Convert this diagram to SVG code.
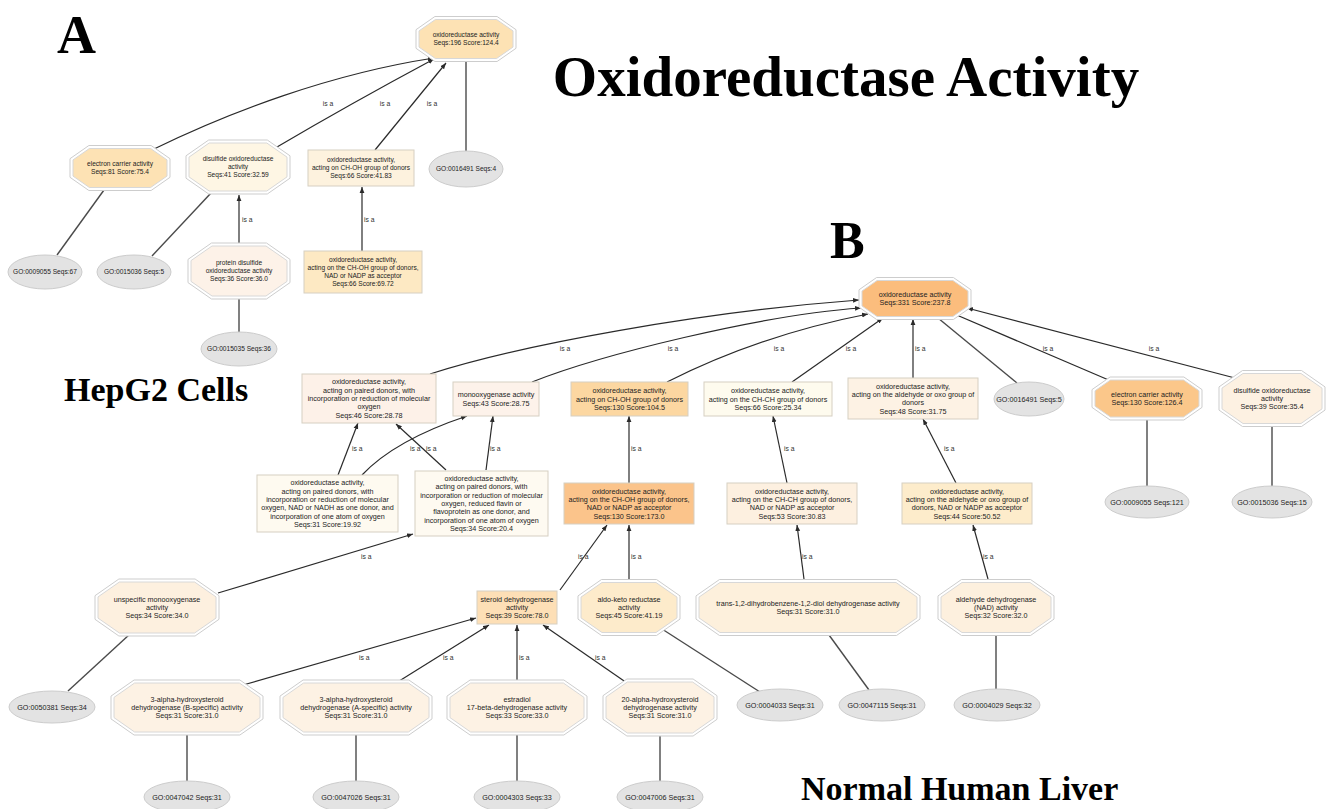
<svg xmlns="http://www.w3.org/2000/svg" width="1328" height="809" viewBox="0 0 1328 809">
<defs>
<marker id="arr" viewBox="0 0 10 10" refX="10" refY="5" markerWidth="6" markerHeight="6" markerUnits="userSpaceOnUse" orient="auto"><path d="M0,1 L10,5 L0,9 z" fill="#2a2a2a"/></marker>
<style>
.isa{fill:none;stroke:#2a2a2a;stroke-width:1.2;marker-end:url(#arr)}
.go{fill:none;stroke:#4a4a4a;stroke-width:1.4}
.lbl{font-family:"Liberation Sans",Arial,sans-serif;font-size:6.8px;fill:#333}
.lm{text-anchor:middle}
.t{font-family:"Liberation Sans",Arial,sans-serif;font-size:7.2px;fill:#222;text-anchor:middle}
.ta{font-family:"Liberation Sans",Arial,sans-serif;font-size:6.6px;fill:#222;text-anchor:middle}
.oo{fill:#fff;stroke:#cdcdcd;stroke-width:1}
.oi{stroke:#d8d8d8;stroke-width:1}
.box{stroke:#d6cfc2;stroke-width:1}
.ell{fill:#e3e3e3;stroke:#cccccc;stroke-width:1}
.title{font-family:"Liberation Serif","Times New Roman",serif;font-weight:bold;fill:#000}
</style>
</defs>
<rect width="1328" height="809" fill="#fff"/>

<text class="title" x="57" y="53" font-size="54">A</text>
<text class="title" x="846" y="96" font-size="57" text-anchor="middle">Oxidoreductase Activity</text>
<text class="title" x="830" y="258" font-size="52">B</text>
<text class="title" x="64" y="401" font-size="34">HepG2 Cells</text>
<text class="title" x="801" y="800" font-size="34">Normal Human Liver</text>

<g id="edges">
<path class="isa" d="M154,149 C230,112 330,74 434,58"/>
<path class="isa" d="M277,147 Q350,104 434,59"/>
<path class="isa" d="M375,150 L446,63"/>
<path class="go" d="M466,62 L466,151"/>
<path class="go" d="M104,190 L57,255"/>
<path class="go" d="M211,193 L152,256"/>
<path class="isa" d="M239,243 L239,195"/>
<path class="go" d="M239,299 L239,332"/>
<path class="isa" d="M362,251 L362,187"/>
<text class="lbl lm" x="328" y="106">is a</text>
<text class="lbl lm" x="385" y="106">is a</text>
<text class="lbl lm" x="432" y="106">is a</text>
<text class="lbl" x="242" y="222">is a</text>
<text class="lbl" x="364" y="222">is a</text>

<path class="isa" d="M430,374 C520,345 700,312 859,300"/>
<path class="isa" d="M532,382 C600,355 760,315 861,308"/>
<path class="isa" d="M667,382 Q760,335 868,314"/>
<path class="isa" d="M792,382 L883,318"/>
<path class="isa" d="M913,378 L913,319"/>
<path class="go" d="M938,318 L1017,383"/>
<path class="isa" d="M1111,381 L952,313"/>
<path class="isa" d="M1235,378 L967,308"/>
<text class="lbl lm" x="565" y="351">is a</text>
<text class="lbl lm" x="673" y="351">is a</text>
<text class="lbl lm" x="779" y="351">is a</text>
<text class="lbl lm" x="851" y="351">is a</text>
<text class="lbl" x="915" y="351">is a</text>
<text class="lbl lm" x="1048" y="351">is a</text>
<text class="lbl lm" x="1154" y="351">is a</text>

<path class="isa" d="M338,475 L358,423"/>
<path class="isa" d="M446,470 L396,424"/>
<path class="isa" d="M362,475 Q395,440 467,416"/>
<path class="isa" d="M486,470 L493,416"/>
<path class="isa" d="M629,483 L629,416"/>
<path class="isa" d="M787,483 L773,416"/>
<path class="isa" d="M956,483 L923,419"/>
<path class="go" d="M1147,420 L1147,486"/>
<path class="go" d="M1272,426 L1272,486"/>
<text class="lbl" x="352" y="451">is a</text>
<text class="lbl" x="410" y="451">is a</text>
<text class="lbl" x="426" y="451">is a</text>
<text class="lbl" x="490" y="451">is a</text>
<text class="lbl" x="631" y="451">is a</text>
<text class="lbl" x="784" y="451">is a</text>
<text class="lbl" x="944" y="451">is a</text>

<path class="isa" d="M218,593 L413,534"/>
<path class="isa" d="M560,590 L607,525"/>
<path class="isa" d="M629,579 L629,525"/>
<path class="isa" d="M804,579 L797,525"/>
<path class="isa" d="M988,579 L973,525"/>
<path class="go" d="M130,634 L68,691"/>
<path class="go" d="M662,629 L760,692"/>
<path class="go" d="M829,635 L869,690"/>
<path class="go" d="M996,635 L996,689"/>
<text class="lbl" x="361" y="559">is a</text>
<text class="lbl" x="578" y="559">is a</text>
<text class="lbl" x="631" y="559">is a</text>
<text class="lbl" x="802" y="559">is a</text>
<text class="lbl" x="983" y="559">is a</text>

<path class="isa" d="M243,685 L476,618"/>
<path class="isa" d="M396,683 L489,625"/>
<path class="isa" d="M517,680 L517,625"/>
<path class="isa" d="M627,683 L543,625"/>
<path class="go" d="M187,735 L187,781"/>
<path class="go" d="M356,735 L356,781"/>
<path class="go" d="M517,735 L517,781"/>
<path class="go" d="M660,736 L660,781"/>
<text class="lbl" x="359" y="660">is a</text>
<text class="lbl" x="443" y="660">is a</text>
<text class="lbl" x="519" y="660">is a</text>
<text class="lbl" x="595" y="660">is a</text>
</g>

<!-- Panel A nodes -->
<g id="a-root" transform="translate(466,39)">
<polygon class="oo" points="-31.1,-22.5 31.1,-22.5 50,-9.3 50,9.3 31.1,22.5 -31.1,22.5 -50,9.3 -50,-9.3"/>
<polygon class="oi" fill="#fde2b4" points="-30.6,-19.5 30.6,-19.5 47,-8.1 47,8.1 30.6,19.5 -30.6,19.5 -47,8.1 -47,-8.1"/>
<text class="ta" y="-1.7">oxidoreductase activity<tspan x="0" dy="8">Seqs:196 Score:124.4</tspan></text>
</g>
<g id="a-electron" transform="translate(120,168)">
<polygon class="oo" points="-31.1,-22.5 31.1,-22.5 50,-9.3 50,9.3 31.1,22.5 -31.1,22.5 -50,9.3 -50,-9.3"/>
<polygon class="oi" fill="#fde2b4" points="-30.6,-19.5 30.6,-19.5 47,-8.1 47,8.1 30.6,19.5 -30.6,19.5 -47,8.1 -47,-8.1"/>
<text class="ta" y="-1.7">electron carrier activity<tspan x="0" dy="8">Seqs:81 Score:75.4</tspan></text>
</g>
<g id="a-disulfide" transform="translate(238,167)">
<polygon class="oo" points="-29.3,-27 29.3,-27 52,-11.2 52,11.2 29.3,27 -29.3,27 -52,11.2 -52,-11.2"/>
<polygon class="oi" fill="#fef6e4" points="-28.8,-24 28.8,-24 49,-9.9 49,9.9 28.8,24 -28.8,24 -49,9.9 -49,-9.9"/>
<text class="ta" y="-5.7">disulfide oxidoreductase<tspan x="0" dy="8">activity</tspan><tspan x="0" dy="8">Seqs:41 Score:32.59</tspan></text>
</g>
<g id="a-choh">
<rect class="box" x="308" y="150" width="106" height="36" fill="#fdf2de"/>
<text class="ta" x="361" y="162.3">oxidoreductase activity,<tspan x="361" dy="8">acting on CH-OH group of donors</tspan><tspan x="361" dy="8">Seqs:66 Score:41.83</tspan></text>
</g>
<g id="a-go16491">
<ellipse class="ell" cx="466" cy="169" rx="37" ry="18"/>
<text class="ta" x="466" y="171.3">GO:0016491 Seqs:4</text>
</g>
<g id="a-go9055">
<ellipse class="ell" cx="45" cy="272" rx="37" ry="17"/>
<text class="ta" x="45" y="274.3">GO:0009055 Seqs:67</text>
</g>
<g id="a-go15036">
<ellipse class="ell" cx="134" cy="272" rx="37" ry="17"/>
<text class="ta" x="134" y="274.3">GO:0015036 Seqs:5</text>
</g>
<g id="a-protein" transform="translate(239,271)">
<polygon class="oo" points="-27.5,-28 27.5,-28 51,-11.6 51,11.6 27.5,28 -27.5,28 -51,11.6 -51,-11.6"/>
<polygon class="oi" fill="#fdf2e8" points="-27,-25 27,-25 48,-10.4 48,10.4 27,25 -27,25 -48,10.4 -48,-10.4"/>
<text class="ta" y="-5.7">protein disulfide<tspan x="0" dy="8">oxidoreductase activity</tspan><tspan x="0" dy="8">Seqs:36 Score:36.0</tspan></text>
</g>
<g id="a-go15035">
<ellipse class="ell" cx="239" cy="349" rx="38" ry="17"/>
<text class="ta" x="239" y="351.3">GO:0015035 Seqs:36</text>
</g>
<g id="a-nad">
<rect class="box" x="304" y="251" width="118" height="42" fill="#fde9c3"/>
<text class="ta" x="363" y="262.3">oxidoreductase activity,<tspan x="363" dy="8">acting on the CH-OH group of donors,</tspan><tspan x="363" dy="8">NAD or NADP as acceptor</tspan><tspan x="363" dy="8">Seqs:66 Score:69.72</tspan></text>
</g>

<!-- Panel B nodes -->
<g id="b-root" transform="translate(915,298.5)">
<polygon class="oo" points="-38.4,-21 38.4,-21 56,-8.7 56,8.7 38.4,21 -38.4,21 -56,8.7 -56,-8.7"/>
<polygon class="oi" fill="#fbbd7d" points="-37.9,-18 37.9,-18 53,-7.5 53,7.5 37.9,18 -37.9,18 -53,7.5 -53,-7.5"/>
<text class="t" y="-1.6">oxidoreductase activity<tspan x="0" dy="8.3">Seqs:331 Score:237.8</tspan></text>
</g>
<g id="b-paired">
<rect class="box" x="302" y="374" width="134" height="49" fill="#fdf1e8"/>
<text class="t" x="369" y="384.4">oxidoreductase activity,<tspan x="369" dy="8.3">acting on paired donors, with</tspan><tspan x="369" dy="8.3">incorporation or reduction of molecular</tspan><tspan x="369" dy="8.3">oxygen</tspan><tspan x="369" dy="8.3">Seqs:46 Score:28.78</tspan></text>
</g>
<g id="b-monoox">
<rect class="box" x="453" y="382" width="86" height="34" fill="#fdf2ea"/>
<text class="t" x="496" y="397.4">monooxygenase activity<tspan x="496" dy="8.3">Seqs:43 Score:28.75</tspan></text>
</g>
<g id="b-choh">
<rect class="box" x="571" y="382" width="117" height="34" fill="#fcd7a1"/>
<text class="t" x="629.5" y="393.2">oxidoreductase activity,<tspan x="629.5" dy="8.3">acting on CH-OH group of donors</tspan><tspan x="629.5" dy="8.3">Seqs:130 Score:104.5</tspan></text>
</g>
<g id="b-chch">
<rect class="box" x="704" y="382" width="128" height="34" fill="#fefbee"/>
<text class="t" x="768" y="393.2">oxidoreductase activity,<tspan x="768" dy="8.3">acting on the CH-CH group of donors</tspan><tspan x="768" dy="8.3">Seqs:66 Score:25.34</tspan></text>
</g>
<g id="b-aldehyde">
<rect class="box" x="848" y="378" width="130" height="41" fill="#fdf2e4"/>
<text class="t" x="913" y="388.6">oxidoreductase activity,<tspan x="913" dy="8.3">acting on the aldehyde or oxo group of</tspan><tspan x="913" dy="8.3">donors</tspan><tspan x="913" dy="8.3">Seqs:48 Score:31.75</tspan></text>
</g>
<g id="b-go16491">
<ellipse class="ell" cx="1029" cy="399" rx="35" ry="17"/>
<text class="t" x="1029" y="401.5">GO:0016491 Seqs:5</text>
</g>
<g id="b-electron" transform="translate(1147,398.5)">
<polygon class="oo" points="-36.9,-21.5 36.9,-21.5 55,-8.9 55,8.9 36.9,21.5 -36.9,21.5 -55,8.9 -55,-8.9"/>
<polygon class="oi" fill="#fbc78a" points="-36.5,-18.5 36.5,-18.5 52,-7.7 52,7.7 36.5,18.5 -36.5,18.5 -52,7.7 -52,-7.7"/>
<text class="t" y="-1.6">electron carrier activity<tspan x="0" dy="8.3">Seqs:130 Score:126.4</tspan></text>
</g>
<g id="b-disulfide" transform="translate(1272,398.5)">
<polygon class="oo" points="-29.5,-28 29.5,-28 53,-11.6 53,11.6 29.5,28 -29.5,28 -53,11.6 -53,-11.6"/>
<polygon class="oi" fill="#fdf1e2" points="-29,-25 29,-25 50,-10.4 50,10.4 29,25 -29,25 -50,10.4 -50,-10.4"/>
<text class="t" y="-5.8">disulfide oxidoreductase<tspan x="0" dy="8.3">activity</tspan><tspan x="0" dy="8.3">Seqs:39 Score:35.4</tspan></text>
</g>
<g id="b-nadh">
<rect class="box" x="257" y="475" width="141" height="57" fill="#fefaf0"/>
<text class="t" x="327.5" y="485.3">oxidoreductase activity,<tspan x="327.5" dy="8.3">acting on paired donors, with</tspan><tspan x="327.5" dy="8.3">incorporation or reduction of molecular</tspan><tspan x="327.5" dy="8.3">oxygen, NAD or NADH as one donor, and</tspan><tspan x="327.5" dy="8.3">incorporation of one atom of oxygen</tspan><tspan x="327.5" dy="8.3">Seqs:31 Score:19.92</tspan></text>
</g>
<g id="b-flavin">
<rect class="box" x="415" y="471" width="133" height="65" fill="#fefaf1"/>
<text class="t" x="481.5" y="481.1">oxidoreductase activity,<tspan x="481.5" dy="8.3">acting on paired donors, with</tspan><tspan x="481.5" dy="8.3">incorporation or reduction of molecular</tspan><tspan x="481.5" dy="8.3">oxygen, reduced flavin or</tspan><tspan x="481.5" dy="8.3">flavoprotein as one donor, and</tspan><tspan x="481.5" dy="8.3">incorporation of one atom of oxygen</tspan><tspan x="481.5" dy="8.3">Seqs:34 Score:20.4</tspan></text>
</g>
<g id="b-choh-nad">
<rect class="box" x="564" y="483" width="130" height="41" fill="#fbc48b"/>
<text class="t" x="629" y="493.6">oxidoreductase activity,<tspan x="629" dy="8.3">acting on the CH-OH group of donors,</tspan><tspan x="629" dy="8.3">NAD or NADP as acceptor</tspan><tspan x="629" dy="8.3">Seqs:130 Score:173.0</tspan></text>
</g>
<g id="b-chch-nad">
<rect class="box" x="727" y="483" width="130" height="41" fill="#fdf0e0"/>
<text class="t" x="792" y="493.6">oxidoreductase activity,<tspan x="792" dy="8.3">acting on the CH-CH group of donors,</tspan><tspan x="792" dy="8.3">NAD or NADP as acceptor</tspan><tspan x="792" dy="8.3">Seqs:53 Score:30.83</tspan></text>
</g>
<g id="b-aldehyde-nad">
<rect class="box" x="902" y="483" width="130" height="41" fill="#fdeccb"/>
<text class="t" x="967" y="493.6">oxidoreductase activity,<tspan x="967" dy="8.3">acting on the aldehyde or oxo group of</tspan><tspan x="967" dy="8.3">donors, NAD or NADP as acceptor</tspan><tspan x="967" dy="8.3">Seqs:44 Score:50.52</tspan></text>
</g>
<g id="b-go9055">
<ellipse class="ell" cx="1147" cy="502" rx="42" ry="16"/>
<text class="t" x="1147" y="504.5">GO:0009055 Seqs:121</text>
</g>
<g id="b-go15036">
<ellipse class="ell" cx="1272" cy="502" rx="40" ry="16"/>
<text class="t" x="1272" y="504.5">GO:0015036 Seqs:15</text>
</g>
<g id="b-unspecific" transform="translate(157,607.5)">
<polygon class="oo" points="-38.1,-28.5 38.1,-28.5 62,-11.8 62,11.8 38.1,28.5 -38.1,28.5 -62,11.8 -62,-11.8"/>
<polygon class="oi" fill="#fdf0df" points="-37.6,-25.5 37.6,-25.5 59,-10.6 59,10.6 37.6,25.5 -37.6,25.5 -59,10.6 -59,-10.6"/>
<text class="t" y="-5.8">unspecific monooxygenase<tspan x="0" dy="8.3">activity</tspan><tspan x="0" dy="8.3">Seqs:34 Score:34.0</tspan></text>
</g>
<g id="b-steroid">
<rect class="box" x="477" y="591" width="80" height="33" fill="#fddfb6"/>
<text class="t" x="517" y="601.7">steroid dehydrogenase<tspan x="517" dy="8.3">activity</tspan><tspan x="517" dy="8.3">Seqs:39 Score:78.0</tspan></text>
</g>
<g id="b-aldoketo" transform="translate(629,607.5)">
<polygon class="oo" points="-27.5,-28 27.5,-28 51,-11.6 51,11.6 27.5,28 -27.5,28 -51,11.6 -51,-11.6"/>
<polygon class="oi" fill="#fdebcb" points="-27,-25 27,-25 48,-10.4 48,10.4 27,25 -27,25 -48,10.4 -48,-10.4"/>
<text class="t" y="-5.8">aldo-keto reductase<tspan x="0" dy="8.3">activity</tspan><tspan x="0" dy="8.3">Seqs:45 Score:41.19</tspan></text>
</g>
<g id="b-trans" transform="translate(808,607.5)">
<polygon class="oo" points="-88.5,-28 88.5,-28 112,-11.6 112,11.6 88.5,28 -88.5,28 -112,11.6 -112,-11.6"/>
<polygon class="oi" fill="#fdf0dc" points="-88,-25 88,-25 109,-10.4 109,10.4 88,25 -88,25 -109,10.4 -109,-10.4"/>
<text class="t" y="-1.6">trans-1,2-dihydrobenzene-1,2-diol dehydrogenase activity<tspan x="0" dy="8.3">Seqs:31 Score:31.0</tspan></text>
</g>
<g id="b-aldh" transform="translate(996,607.5)">
<polygon class="oo" points="-34.5,-28 34.5,-28 58,-11.6 58,11.6 34.5,28 -34.5,28 -58,11.6 -58,-11.6"/>
<polygon class="oi" fill="#fdf0de" points="-34,-25 34,-25 55,-10.4 55,10.4 34,25 -34,25 -55,10.4 -55,-10.4"/>
<text class="t" y="-5.8">aldehyde dehydrogenase<tspan x="0" dy="8.3">(NAD) activity</tspan><tspan x="0" dy="8.3">Seqs:32 Score:32.0</tspan></text>
</g>
<g id="b-go50381">
<ellipse class="ell" cx="52" cy="707" rx="43" ry="16"/>
<text class="t" x="52" y="709.5">GO:0050381 Seqs:34</text>
</g>
<g id="b-3ab" transform="translate(187,707.5)">
<polygon class="oo" points="-52.9,-27.5 52.9,-27.5 76,-11.4 76,11.4 52.9,27.5 -52.9,27.5 -76,11.4 -76,-11.4"/>
<polygon class="oi" fill="#fdf2e4" points="-52.4,-24.5 52.4,-24.5 73,-10.1 73,10.1 52.4,24.5 -52.4,24.5 -73,10.1 -73,-10.1"/>
<text class="t" y="-5.8">3-alpha-hydroxysteroid<tspan x="0" dy="8.3">dehydrogenase (B-specific) activity</tspan><tspan x="0" dy="8.3">Seqs:31 Score:31.0</tspan></text>
</g>
<g id="b-3aa" transform="translate(356,707.5)">
<polygon class="oo" points="-52.9,-27.5 52.9,-27.5 76,-11.4 76,11.4 52.9,27.5 -52.9,27.5 -76,11.4 -76,-11.4"/>
<polygon class="oi" fill="#fdf2e4" points="-52.4,-24.5 52.4,-24.5 73,-10.1 73,10.1 52.4,24.5 -52.4,24.5 -73,10.1 -73,-10.1"/>
<text class="t" y="-5.8">3-alpha-hydroxysteroid<tspan x="0" dy="8.3">dehydrogenase (A-specific) activity</tspan><tspan x="0" dy="8.3">Seqs:31 Score:31.0</tspan></text>
</g>
<g id="b-estradiol" transform="translate(517,707.5)">
<polygon class="oo" points="-46.9,-27.5 46.9,-27.5 70,-11.4 70,11.4 46.9,27.5 -46.9,27.5 -70,11.4 -70,-11.4"/>
<polygon class="oi" fill="#fdf2e4" points="-46.4,-24.5 46.4,-24.5 67,-10.1 67,10.1 46.4,24.5 -46.4,24.5 -67,10.1 -67,-10.1"/>
<text class="t" y="-5.8">estradiol<tspan x="0" dy="8.3">17-beta-dehydrogenase activity</tspan><tspan x="0" dy="8.3">Seqs:33 Score:33.0</tspan></text>
</g>
<g id="b-20a" transform="translate(660,707.5)">
<polygon class="oo" points="-33.1,-28.5 33.1,-28.5 57,-11.8 57,11.8 33.1,28.5 -33.1,28.5 -57,11.8 -57,-11.8"/>
<polygon class="oi" fill="#fdf2e4" points="-32.6,-25.5 32.6,-25.5 54,-10.6 54,10.6 32.6,25.5 -32.6,25.5 -54,10.6 -54,-10.6"/>
<text class="t" y="-5.8">20-alpha-hydroxysteroid<tspan x="0" dy="8.3">dehydrogenase activity</tspan><tspan x="0" dy="8.3">Seqs:31 Score:31.0</tspan></text>
</g>
<g id="b-go4033">
<ellipse class="ell" cx="780" cy="705" rx="43" ry="16"/>
<text class="t" x="780" y="707.5">GO:0004033 Seqs:31</text>
</g>
<g id="b-go47115">
<ellipse class="ell" cx="882" cy="705" rx="43" ry="16"/>
<text class="t" x="882" y="707.5">GO:0047115 Seqs:31</text>
</g>
<g id="b-go4029">
<ellipse class="ell" cx="997" cy="705" rx="43" ry="16"/>
<text class="t" x="997" y="707.5">GO:0004029 Seqs:32</text>
</g>
<g id="b-go47042">
<ellipse class="ell" cx="187" cy="797" rx="43" ry="16"/>
<text class="t" x="187" y="799.5">GO:0047042 Seqs:31</text>
</g>
<g id="b-go47026">
<ellipse class="ell" cx="356" cy="797" rx="43" ry="16"/>
<text class="t" x="356" y="799.5">GO:0047026 Seqs:31</text>
</g>
<g id="b-go4303">
<ellipse class="ell" cx="517" cy="797" rx="43" ry="16"/>
<text class="t" x="517" y="799.5">GO:0004303 Seqs:33</text>
</g>
<g id="b-go47006">
<ellipse class="ell" cx="660" cy="797" rx="43" ry="16"/>
<text class="t" x="660" y="799.5">GO:0047006 Seqs:31</text>
</g>
</svg>
